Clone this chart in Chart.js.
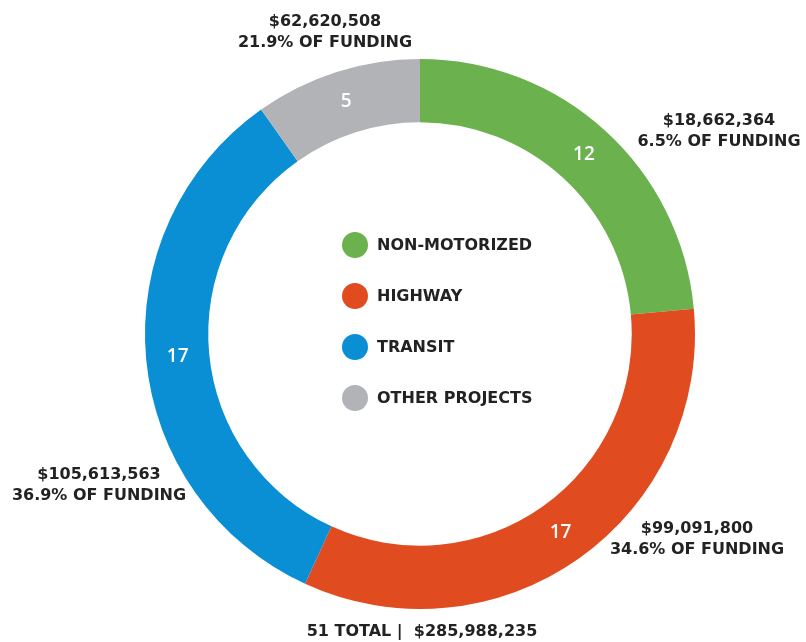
<!DOCTYPE html>
<html>
<head>
<meta charset="utf-8">
<script src="https://cdn.jsdelivr.net/npm/chart.js@4/dist/chart.umd.min.js"></script>
<style>
  body { margin: 0; background: #fff; }
  canvas { display: block; }
</style>
</head>
<body>
<canvas id="fundingChart" width="806" height="642"></canvas>
<script>
// project counts by category, drawn clockwise from 12 o'clock
const categories = ['NON-MOTORIZED', 'HIGHWAY', 'TRANSIT', 'OTHER PROJECTS'];
const projectCounts = [12, 17, 17, 5];
const fundingAmounts = ['$18,662,364', '$99,091,800', '$105,613,563', '$62,620,508'];
const fundingShares = ['6.5%', '34.6%', '36.9%', '21.9%'];
const totalText = '51 TOTAL |  $285,988,235';

const colors = ['#6bb24e', '#e04b20', '#0a8fd5', '#b2b3b6'];

// where each funding callout sits, relative to the ring centre
const calloutOffsets = [[299, -213], [277, 195], [-321, 141], [-95, -312]];

const labelFont = 'bold 16px "DejaVu Sans"';

const ringText = {
    id: 'ringText',
    afterDraw(chart) {
        const ctx = chart.ctx;
        const meta = chart.getDatasetMeta(0);
        const cx = meta.data[0].x;
        const cy = meta.data[0].y;
        ctx.save();
        ctx.textAlign = 'center';
        ctx.textBaseline = 'middle';

        // counts inside the ring
        ctx.fillStyle = '#fff';
        ctx.font = '600 19px "Open Sans"';
        meta.data.forEach((arc, i) => {
            const p = arc.tooltipPosition();
            ctx.fillText(String(projectCounts[i]), p.x, p.y);
        });

        // funding callouts
        ctx.fillStyle = '#222';
        ctx.font = labelFont;
        calloutOffsets.forEach((o, i) => {
            ctx.fillText(fundingAmounts[i], cx + o[0], cy + o[1]);
            ctx.fillText(fundingShares[i] + ' OF FUNDING', cx + o[0], cy + o[1] + 21);
        });
        ctx.fillText(totalText, cx + 2, cy + 298);

        // legend in the middle
        ctx.textAlign = 'left';
        categories.forEach((c, i) => {
            const y = cy - 89 + i * 51;
            ctx.fillStyle = colors[i];
            ctx.beginPath();
            ctx.arc(cx - 65, y, 13, 0, Math.PI * 2);
            ctx.fill();
            ctx.fillStyle = '#222';
            ctx.fillText(c, cx - 43, y + 1);
        });
        ctx.restore();
    }
};

const fundingChart = new Chart(document.getElementById('fundingChart'), {
    type: 'doughnut',
    data: {
        labels: categories,
        datasets: [{
            data: projectCounts,
            backgroundColor: colors,
            borderWidth: 0
        }]
    },
    options: {
        responsive: false,
        animation: false,
        cutout: '77%',
        layout: {
            padding: { left: 145, right: 111, top: 59, bottom: 33 }
        },
        plugins: {
            legend: { display: false },
            tooltip: { enabled: false }
        }
    },
    plugins: [ringText]
});
</script>
</body>
</html>
